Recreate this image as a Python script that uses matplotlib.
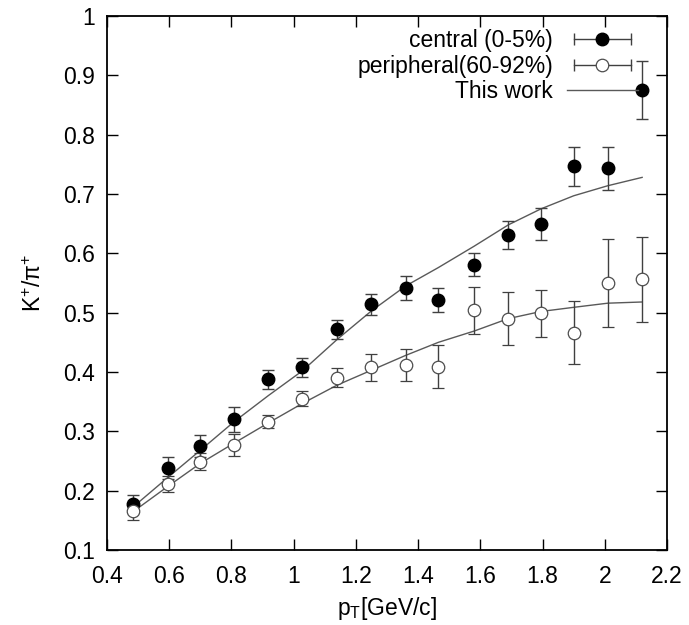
import numpy as np
import matplotlib
matplotlib.use("Agg")
import matplotlib.pyplot as plt
from matplotlib.lines import Line2D
from matplotlib.legend_handler import HandlerLine2D

plt.rcParams['font.family'] = ['Liberation Sans', 'DejaVu Sans']
plt.rcParams['mathtext.fontset'] = 'custom'
plt.rcParams['mathtext.rm'] = 'Liberation Sans'
plt.rcParams['mathtext.it'] = 'Liberation Sans:italic'

# pT bins [GeV/c]
pt = [0.485, 0.595, 0.70, 0.808, 0.918, 1.028, 1.14, 1.25,
      1.36, 1.465, 1.58, 1.69, 1.795, 1.90, 2.01, 2.12]

# central (0-5%)
central = [0.178, 0.238, 0.275, 0.320, 0.388, 0.408, 0.472, 0.514,
           0.541, 0.521, 0.581, 0.631, 0.649, 0.747, 0.743, 0.875]
central_err = [0.015, 0.019, 0.018, 0.021, 0.016, 0.016, 0.016, 0.018,
               0.020, 0.020, 0.019, 0.024, 0.027, 0.033, 0.036, 0.049]

# peripheral (60-92%)
periph = [0.165, 0.211, 0.249, 0.277, 0.316, 0.355, 0.390, 0.408,
          0.412, 0.409, 0.504, 0.490, 0.499, 0.466, 0.550, 0.556]
periph_err = [0.015, 0.013, 0.015, 0.018, 0.011, 0.013, 0.016, 0.023,
              0.027, 0.036, 0.040, 0.045, 0.040, 0.053, 0.074, 0.072]

# model curves ("This work")
fit_central = [0.173, 0.222, 0.268, 0.316, 0.360, 0.402, 0.455, 0.503,
               0.545, 0.576, 0.612, 0.648, 0.675, 0.697, 0.714, 0.728]
fit_periph = [0.165, 0.207, 0.246, 0.280, 0.314, 0.347, 0.378, 0.403,
              0.428, 0.450, 0.469, 0.490, 0.502, 0.509, 0.516, 0.518]

fig = plt.figure(figsize=(6.89, 6.25), dpi=100)
ax = fig.add_axes([0.1553, 0.12, 0.8128, 0.8544])

curve_col = '0.35'
err_col = '0.25'
fs = 16.5

ax.plot(pt, fit_central, color=curve_col, lw=1.0, zorder=2)
ax.plot(pt, fit_periph, color=curve_col, lw=1.0, zorder=2)

ax.errorbar(pt, central, yerr=central_err, fmt='o', color='black',
            ms=9, ecolor=err_col, elinewidth=1.0, capsize=4.5,
            capthick=1.0, zorder=3)
ax.errorbar(pt, periph, yerr=periph_err, fmt='o', mfc='white',
            mec='0.3', mew=0.9, ms=9, ecolor=err_col, elinewidth=1.0,
            capsize=4.5, capthick=1.0, zorder=3)

ax.set_xlim(0.4, 2.2)
ax.set_ylim(0.1, 1.0)
ax.set_xticks(np.arange(0.4, 2.21, 0.2))
ax.set_xticklabels(['0.4', '0.6', '0.8', '1', '1.2', '1.4', '1.6', '1.8', '2', '2.2'])
ax.set_yticks(np.arange(0.1, 1.01, 0.1))
ax.set_yticklabels(['0.1', '0.2', '0.3', '0.4', '0.5', '0.6', '0.7', '0.8', '0.9', '1'])
ax.tick_params(axis='x', pad=11)
ax.tick_params(axis='y', pad=9)
ax.tick_params(direction='in', length=8, width=1.0, top=True, right=True,
               labelsize=fs, colors='black')
for s in ax.spines.values():
    s.set_linewidth(1.3)

ax.set_xlabel(r'p$_{\mathrm{T}}$[GeV/c]', fontsize=fs, labelpad=5)
ax.set_ylabel('K$^{+}$/π$^{+}$', fontsize=fs, labelpad=12)

# legend in gnuplot style: text on the left, sample on the right
cap = Line2D([], [], color=err_col, lw=1.0, marker='|', ms=9, mew=1.0)
dot_full = Line2D([], [], color='black', marker='o', ls='none', ms=9)
dot_open = Line2D([], [], color='0.3', marker='o', ls='none', ms=9,
                  mfc='white', mew=0.9)
fit_line = Line2D([], [], color=curve_col, lw=1.0)

ax.legend([(cap, dot_full), (cap, dot_open), fit_line],
          ['central (0-5%)', 'peripheral(60-92%)', 'This work'],
          handler_map={cap: HandlerLine2D(numpoints=2)},
          loc='upper right', bbox_to_anchor=(0.948, 0.975),
          borderaxespad=0, borderpad=0, frameon=False, markerfirst=False,
          handlelength=3.1, handletextpad=0.6, labelspacing=0.1,
          fontsize=fs)

fig.savefig('out.png', dpi=100)
